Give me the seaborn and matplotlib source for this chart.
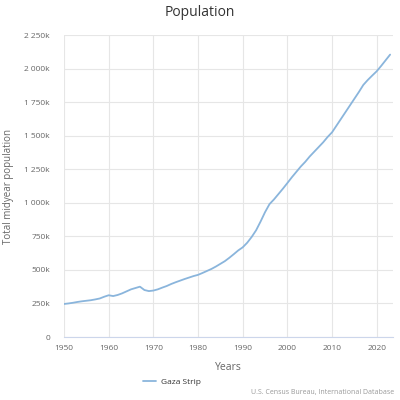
import pandas as pd
import matplotlib
matplotlib.use("Agg")
import matplotlib.pyplot as plt
import matplotlib.ticker as mticker
import seaborn as sns


# Data (thousands of people)
years = list(range(1950, 2024))

population_k = [
    246, 250, 255, 261, 266, 270, 274, 280, 287, 300,
    311, 305, 313, 325, 340, 355, 365, 375, 350, 342,
    346, 355, 368, 380, 395, 408, 420, 432, 443, 454,
    463, 477, 492, 507, 525, 545, 565, 590, 617, 645,
    668, 702, 745, 795, 860, 930, 990, 1025, 1065, 1105,
    1147, 1190, 1230, 1270, 1305, 1345, 1380, 1415, 1450, 1490,
    1525, 1575, 1625, 1675, 1725, 1775, 1825, 1878, 1915, 1948,
    1980, 2020, 2062, 2104,
]

series_name = "Gaza Strip"

df = pd.DataFrame({
    "Years": years,
    "Population": [v * 1000 for v in population_k],
    "Country": series_name,
})


# Style
sns.set_style("white")
plt.rcParams["font.family"] = ["Open Sans", "DejaVu Sans"]

line_color = "#8ab5dc"

fig = plt.figure(figsize=(4, 4), dpi=100)
ax = fig.add_axes([0.16, 0.1575, 0.822, 0.755])

sns.lineplot(
    data=df,
    x="Years",
    y="Population",
    hue="Country",
    palette=[line_color],
    linewidth=1.3,
    legend=False,
    ax=ax,
)

ax.set_xlim(1950, 2023.6)
ax.set_ylim(0, 2250000)

ax.xaxis.set_major_locator(mticker.MultipleLocator(10))
ax.yaxis.set_major_locator(mticker.MultipleLocator(250000))


def fmt_k(v, pos):
    k = int(round(v / 1000))
    if k == 0:
        return "0"
    return f"{k:,}k".replace(",", " ")


ax.yaxis.set_major_formatter(mticker.FuncFormatter(fmt_k))

ax.grid(True, color="#e6e6e6", linewidth=0.8)
for s in ["top", "right", "left"]:
    ax.spines[s].set_visible(False)
ax.spines["bottom"].set_color("#ccd6eb")
ax.spines["bottom"].set_linewidth(0.8)

ax.tick_params(axis="x", colors="#666666", labelsize=6, length=4,
               width=0.8, direction="out", pad=2)
ax.tick_params(axis="x", color="#ccd6eb")
ax.tick_params(axis="y", colors="#666666", labelsize=6, length=0, pad=10)

ax.set_xlabel("Years", fontsize=7.5, color="#666666", labelpad=7)
ax.set_ylabel("Total midyear population", fontsize=7, color="#666666")
ax.yaxis.set_label_coords(-0.152, 0.5)

fig.text(0.5, 0.97, "Population", ha="center", va="center",
         fontsize=10, color="#333333")

# Legend
handle = plt.Line2D([], [], color=line_color, linewidth=1.3)
fig.legend([handle], [series_name], loc="center", bbox_to_anchor=(0.43, 0.045),
           frameon=False, fontsize=6, labelcolor="#333333", handlelength=1.6,
           handletextpad=0.6)

fig.text(0.985, 0.018, "U.S. Census Bureau, International Database",
         ha="right", va="center", fontsize=5, color="#999999")

plt.savefig("out.png", dpi=100)
